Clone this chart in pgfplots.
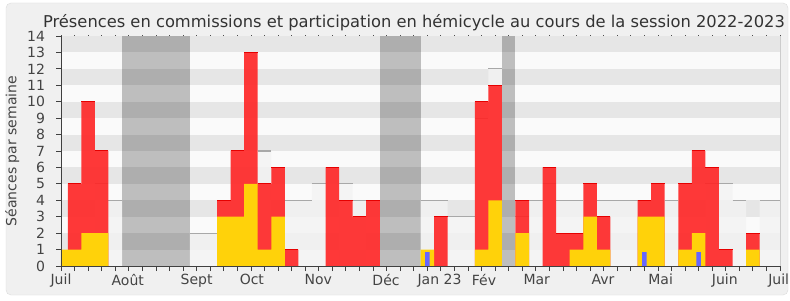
\documentclass[border=0pt]{standalone}
\usepackage{pgfplots}
\pgfplotsset{compat=1.18}
\usepackage{pgfplotstable}
\usepackage{fontspec}
\setmainfont{DejaVu Sans}
\definecolor{bglight}{HTML}{FAFAFA}
\definecolor{bgdark}{HTML}{E6E6E6}
\definecolor{outerbg}{HTML}{F0F0F0}
\definecolor{outerline}{HTML}{DCDCDC}
\definecolor{redfill}{RGB}{255,36,36}
\definecolor{rededge}{RGB}{230,0,0}
\definecolor{yel}{RGB}{255,210,10}
\definecolor{blu}{RGB}{102,102,255}
\definecolor{medline}{HTML}{A8A8A8}
\definecolor{medfill}{HTML}{F3F3F3}
\definecolor{txt}{HTML}{444444}

% total sessions per week (red)
\pgfplotstableread{
x t
1 5
2 10
3 7
12 4
13 7
14 13
15 5
16 6
17 1
20 6
21 4
22 3
23 4
28 3
31 10
32 11
34 4
36 6
37 2
38 2
39 5
40 3
43 4
44 5
46 5
47 7
48 6
49 1
51 2
}\tabred
% commission sessions (yellow)
\pgfplotstableread{
x y
0 1
1 1
2 2
3 2
12 3
13 3
14 5
15 1
16 3
27 1
31 1
32 4
34 2
38 1
39 3
40 1
43 3
44 3
46 1
47 2
51 1
}\tabyel
% blue
\pgfplotstableread{
x b
27 0.85
43 0.85
47 0.85
}\tabblu
% median of deputies
\pgfplotstableread{
x m
3 5
4 4
10 2
11 2
15 7
17 4
18 4
19 5
21 5
22 4
27 4
28 4
29 3
30 3
31 9
32 12
34 3
35 4
36 5
37 4
38 4
40 4
41 4
42 4
45 4
48 5
49 5
50 4
52 4
53 4
}\tabmed

\begin{document}
\begin{tikzpicture}[x=1pt,y=1pt]
\fill[white] (0,0) rectangle (790,300);
\draw[outerline, fill=outerbg, rounded corners=5pt] (6,5) rectangle (788,297);
\node[anchor=base, font=\fontsize{16.3}{19}\selectfont, text=black!80] at (414,272) {Présences en commissions et participation en hémicycle au cours de la session 2022-2023};
\node[rotate=90, anchor=base, font=\fontsize{14}{16}\selectfont, text=txt] at (16.5,149) {Séances par semaine};
\begin{axis}[
  at={(61pt,34pt)}, anchor=south west,
  scale only axis, width=719pt, height=230pt,
  xmin=0, xmax=53, ymin=0, ymax=14,
  axis background/.style={fill=bglight},
  axis line style={draw=none},
  tick align=outside, tick pos=left,
  ytick={0,...,14},
  xtick={0,4.92,10,14.07,18.96,23.96,27.9,31.18,35.07,39.95,44.2,48.93,52.9},
  xticklabels={Juil,Août,Sept,Oct,Nov,Déc,Jan 23,Fév,Mar,Avr,Mai,Juin,Juil},
  minor xtick={0,...,53},
  major x tick style={draw=none},
  minor x tick style={draw=black!75, line width=0.8pt},
  minor tick length=5pt, major tick length=4.5pt,
  ytick style={draw=black!75, line width=0.8pt},
  ticklabel style={font=\fontsize{14}{16}\selectfont, text=txt},
  yticklabel style={xshift=-8pt},
  /pgf/number format/assume math mode=true,
]
\fill[bgdark] (axis cs:0,1) rectangle (axis cs:53,2);
\fill[bgdark] (axis cs:0,3) rectangle (axis cs:53,4);
\fill[bgdark] (axis cs:0,5) rectangle (axis cs:53,6);
\fill[bgdark] (axis cs:0,7) rectangle (axis cs:53,8);
\fill[bgdark] (axis cs:0,9) rectangle (axis cs:53,10);
\fill[bgdark] (axis cs:0,11) rectangle (axis cs:53,12);
\fill[bgdark] (axis cs:0,13) rectangle (axis cs:53,14);
\addplot[ybar interval, fill=black, fill opacity=0.24, draw=none] coordinates {(4.5,14) (9.5,14)};
\addplot[ybar interval, fill=black, fill opacity=0.24, draw=none] coordinates {(23.5,14) (26.5,14)};
\addplot[ybar interval, fill=black, fill opacity=0.24, draw=none] coordinates {(32.5,14) (33.5,14)};
\addplot[ybar, bar width=1, bar shift=0pt, fill=medfill, fill opacity=0.8, draw=none] table[x=x,y=m] {\tabmed};
\addplot[quiver={u=1,v=0}, draw=medline, line width=1.2pt, -] table[x expr=\thisrow{x}-0.5, y=m] {\tabmed};
\addplot[ybar, bar width=1, bar shift=0pt, fill=redfill, fill opacity=0.9, draw=none] table[x=x,y=t] {\tabred};
\addplot[quiver={u=1,v=0}, draw=rededge, line width=1pt, -] table[x expr=\thisrow{x}-0.5, y=t] {\tabred};
\addplot[ybar, bar width=1, bar shift=0pt, fill=yel, draw=none] table[x=x,y=y] {\tabyel};
\addplot[ybar, bar width=0.33, bar shift=0pt, fill=blu, draw=none] table[x=x,y=b] {\tabblu};
\end{axis}
\draw[black!75, line width=0.8pt] (61,264) -- (61,34) -- (780,34);
\draw[black!20, line width=0.8pt] (780,34) -- (780,264);
\foreach \i in {0,...,53} \fill[black!70] ({61+13.566*\i-0.4},264.3) rectangle ++(0.8,1);
\pgfresetboundingbox
\path[use as bounding box] (0,0) rectangle (790,300);
\end{tikzpicture}
\end{document}
